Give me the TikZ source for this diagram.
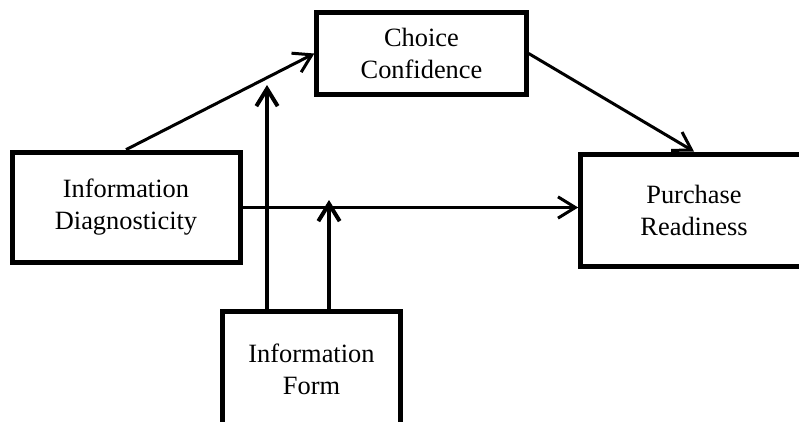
\documentclass[tikz,border=0pt]{standalone}
\usepackage{fontspec}
\setmainfont{Liberation Serif}
\usetikzlibrary{arrows.meta,positioning}

\begin{document}
\begin{tikzpicture}[x=0.75pt,y=-0.75pt,->,>={Straight Barb[length=13pt,width=16pt]},
                    line width=2.25pt]
  \tikzstyle{every node}=[font=\fontsize{19.8}{24}\selectfont]
  \tikzstyle{var}=[draw=black,line width=3.75pt,align=center,inner sep=0pt]
  \tikzstyle{moderator}=[line width=3pt]

  \useasboundingbox (0,0) rectangle (799,421);

  \node[var,minimum width=171pt,minimum height=83pt] (diag)   at (126,207.5) {Information\\Diagnosticity};
  \node[var,minimum width=157pt,minimum height=61pt] (choice) at (421.5,53.5) {Choice\\Confidence};
  \node[var,minimum width=170pt,minimum height=84pt] (ready)  at (694,210)   {Purchase\\Readiness};
  \node[var,minimum width=134pt,minimum height=87pt] (form)   at (311.5,369) {Information\\Form};

  \coordinate (tipA) at (267,85);
  \coordinate (tipB) at (329,200);

  \path (diag.north)  edge (choice.west)
        (choice.east) edge (ready.north)
        (diag.east)   edge (diag.east -| ready.west);
  \draw[moderator] (form.north -| tipA) -- (tipA);
  \draw[moderator] (form.north -| tipB) -- (tipB);
\end{tikzpicture}
\end{document}
